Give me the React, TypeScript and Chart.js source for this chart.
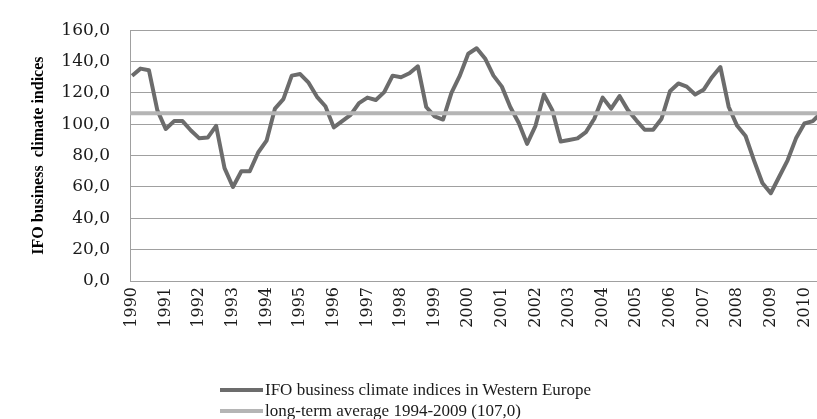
import React, { useEffect, useRef } from 'react';
import { Chart, registerables } from 'chart.js';

Chart.register(...registerables);

// Year labels shown on the x axis (one per 4 quarters, starting 1990 Q1)
const yearLabels: string[] = [
  '1990', '1991', '1992', '1993', '1994', '1995', '1996', '1997', '1998', '1999',
  '2000', '2001', '2002', '2003', '2004', '2005', '2006', '2007', '2008', '2009', '2010',
];

// Quarterly IFO business climate index for Western Europe, 1990 Q1 onwards
const ifoValues: number[] = [
  131, 135.5, 134.5, 109, // 1990
  97, 102, 102, 96, // 1991
  91, 91.5, 99, 72, // 1992
  60, 70, 70, 82, // 1993
  89.5, 110, 116, 131, // 1994
  132, 126.5, 117.5, 111.5, // 1995
  98, 102, 106, 113.5, // 1996
  117, 115.5, 120.5, 131, // 1997
  130, 132.5, 137, 111, // 1998
  105, 103, 120, 131, // 1999
  145, 148.5, 142, 131, // 2000
  124, 111, 101, 87.5, // 2001
  99, 119, 109, 89, // 2002
  90, 91, 95, 103.5, // 2003
  117, 110, 118, 109, // 2004
  102.5, 96.5, 96.5, 103.5, // 2005
  121, 126, 124, 119, // 2006
  122, 130, 136.5, 111, // 2007
  99, 92.5, 77, 62.5, // 2008
  56, 66.5, 77, 91, // 2009
  100.5, 102, 107.5, // 2010
];

const longTermAverage = 107.0;

const seriesLabel = 'IFO business climate indices in Western Europe';
const averageLabel = 'long-term average 1994-2009 (107,0)';
const yAxisTitle = 'IFO business  climate indices';

const yMin = 0;
const yMax = 160;
const yStep = 20;

const X_MIN = -0.25;
const X_MAX = 81.5;

const SERIF = "'Liberation Serif', 'Times New Roman', serif";
const TICK_FONT = "'DejaVu Serif', 'Liberation Serif', serif";

export default function App() {
  const canvasRef = useRef<HTMLCanvasElement | null>(null);

  useEffect(() => {
    const canvas = canvasRef.current;
    if (!canvas) return;
    const chart = new Chart(canvas, {
      type: 'line',
      data: {
        datasets: [
          {
            label: averageLabel,
            data: [
              { x: X_MIN, y: longTermAverage },
              { x: ifoValues.length, y: longTermAverage },
            ],
            borderColor: '#b5b5b5',
            backgroundColor: '#b5b5b5',
            borderWidth: 4,
            pointRadius: 0,
            tension: 0,
          },
          {
            label: seriesLabel,
            data: ifoValues.map((v, i) => ({ x: i, y: v })),
            borderColor: '#6c6c6c',
            backgroundColor: '#6c6c6c',
            borderWidth: 4,
            pointRadius: 0,
            tension: 0,
            borderJoinStyle: 'round',
          },
        ],
      },
      options: {
        animation: false,
        responsive: false,
        maintainAspectRatio: false,
        layout: { padding: { left: 0, right: 0, top: 22, bottom: 0 } },
        plugins: {
          legend: { display: false },
          tooltip: { enabled: false },
        },
        scales: {
          x: {
            type: 'linear',
            min: X_MIN,
            max: X_MAX,
            afterFit: (s: any) => {
              s.height = 138;
              s.paddingLeft = 0;
              s.paddingRight = 0;
            },
            grid: { display: false, drawTicks: false },
            border: { display: true, color: '#a0a0a0', width: 1 },
            ticks: {
              stepSize: 4,
              includeBounds: false,
              autoSkip: false,
              minRotation: 90,
              maxRotation: 90,
              padding: 6,
              color: '#1a1a1a',
              font: { family: TICK_FONT, size: 16 },
              callback: (value: any) => {
                const v = Number(value);
                if (v % 4 !== 0) return '';
                return yearLabels[v / 4] ?? '';
              },
            },
          },
          y: {
            min: yMin,
            max: yMax,
            afterFit: (s: any) => {
              s.width = 130;
            },
            grid: { color: '#a0a0a0', lineWidth: 1, drawTicks: false },
            border: { display: true, color: '#a0a0a0', width: 1 },
            ticks: {
              stepSize: yStep,
              padding: 20,
              color: '#1a1a1a',
              font: { family: TICK_FONT, size: 17 },
              callback: (value: any) => Number(value).toFixed(1).replace('.', ','),
            },
            title: {
              display: true,
              text: yAxisTitle,
              color: '#000',
              font: { family: SERIF, size: 16, weight: 'bold' },
              padding: { top: 29, bottom: 0 },
            },
          },
        },
      },
    });
    return () => chart.destroy();
  }, []);

  const legendItems = [
    { label: seriesLabel, color: '#6c6c6c', top: 380 },
    { label: averageLabel, color: '#b5b5b5', top: 401 },
  ];

  return (
    <div style={{ position: 'absolute', left: 0, top: 0, width: 817, height: 419, overflow: 'hidden', background: '#fff' }}>
      <canvas ref={canvasRef} width={817} height={419} style={{ display: 'block', width: 817, height: 419 }} />
      {legendItems.map((item) => (
        <div
          key={item.label}
          style={{ position: 'absolute', left: 220, top: item.top, height: 20, display: 'flex', alignItems: 'center', whiteSpace: 'nowrap' }}
        >
          <div style={{ width: 43, height: 4, background: item.color, marginRight: 2 }} />
          <span style={{ fontFamily: SERIF, fontSize: 17, color: '#1a1a1a', lineHeight: '20px' }}>{item.label}</span>
        </div>
      ))}
    </div>
  );
}
